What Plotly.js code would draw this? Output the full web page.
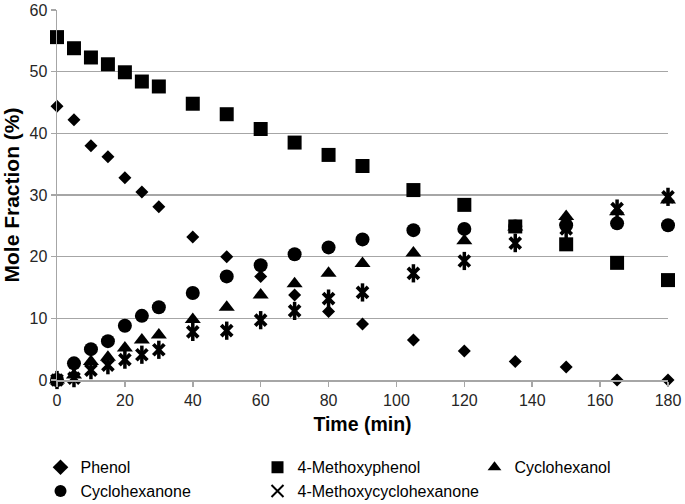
<!DOCTYPE html>
<html>
<head>
<meta charset="utf-8">
<script src="https://cdn.plot.ly/plotly-3.0.1.min.js"></script>
<style>html,body{margin:0;padding:0;background:#fff;}#chart{width:685px;height:504px;}</style>
</head>
<body>
<div id="chart"></div>
<script>
const time = [0, 5, 10, 15, 20, 25, 30, 40, 50, 60, 70, 80, 90, 105, 120, 135, 150, 165, 180];
const phenol = [44.4, 42.2, 38.0, 36.2, 32.8, 30.5, 28.1, 23.2, 20.0, 16.8, 13.8, 11.1, 9.1, 6.5, 4.7, 3.0, 2.1, 0, 0];
const methoxyphenol = [55.6, 53.8, 52.3, 51.2, 49.9, 48.4, 47.6, 44.8, 43.1, 40.7, 38.5, 36.5, 34.7, 30.8, 28.4, 24.9, 22.0, 19.0, 16.2];
const cyclohexanol = [0, 0.8, 3.0, 3.7, 5.2, 6.5, 7.3, 9.8, 11.8, 13.8, 15.6, 17.3, 18.9, 20.6, 22.6, 24.8, 26.5, 27.3, 29.2];
const cyclohexanone = [0, 2.7, 5.0, 6.3, 8.8, 10.4, 11.8, 14.1, 16.8, 18.6, 20.4, 21.5, 22.8, 24.3, 24.5, 24.9, 25.1, 25.4, 25.1];
const methoxycyclohexanone = [0, 0.3, 1.6, 2.4, 3.3, 4.1, 4.9, 7.8, 8.0, 9.7, 11.2, 13.2, 14.2, 17.3, 19.3, 22.2, 24.5, 27.8, 29.7];
const names = ['Phenol', '4-Methoxyphenol', 'Cyclohexanol', 'Cyclohexanone', '4-Methoxycyclohexanone'];

const black = '#000000';
function tr(name, y, symbol, size, lineWidth, extra) {
  return Object.assign({
    type: 'scatter', mode: 'markers', name: name, x: time, y: y, cliponaxis: false,
    marker: {symbol: symbol, size: size, color: black, line: {width: lineWidth, color: black}}
  }, extra || {});
}
const data = [
  tr(names[0], phenol, 'diamond', 10, 0),
  tr(names[1], methoxyphenol, 'square', 14, 0),
  tr(names[2], cyclohexanol, 'triangle-up', 14, 0),
  tr(names[3], cyclohexanone, 'circle', 14, 0),
  tr(names[4], methoxycyclohexanone, 'x-thin-open', 11, 3.8),
  tr(names[4], methoxycyclohexanone, 'line-ns-open', 13, 3.5, {showlegend: false, hoverinfo: 'skip'})
];

const titleFont = {family: 'Liberation Sans, Arial, sans-serif', color: '#000000', weight: 'bold'};
const layout = {
  width: 685, height: 504,
  margin: {l: 57, r: 17, t: 10, b: 124, autoexpand: false},
  paper_bgcolor: '#ffffff', plot_bgcolor: '#ffffff',
  font: {family: 'Liberation Sans, Arial, sans-serif', size: 16, color: '#262626'},
  showlegend: true,
  legend: {
    orientation: 'h', x: -0.027, xanchor: 'left', y: -0.19, yanchor: 'top',
    entrywidth: 172, entrywidthmode: 'pixels',
    font: {size: 16, color: '#000000'}, itemsizing: 'constant',
    traceorder: 'normal', bgcolor: 'rgba(0,0,0,0)'
  },
  xaxis: {
    range: [0, 180], tickvals: [0, 20, 40, 60, 80, 100, 120, 140, 160, 180],
    showgrid: false, zeroline: false, showline: true, linecolor: '#a6a6a6', linewidth: 1.5,
    ticks: 'outside', ticklen: 5, tickcolor: '#a6a6a6', tickwidth: 1.5,
    tickfont: {size: 16, color: '#262626'},
    title: {text: 'Time (min)', font: Object.assign({size: 19.5}, titleFont), standoff: 9}
  },
  yaxis: {
    range: [0, 60], tickvals: [0, 10, 20, 30, 40, 50, 60],
    showgrid: true, gridcolor: '#a6a6a6', gridwidth: 1.5, zeroline: false,
    showline: true, linecolor: '#a6a6a6', linewidth: 1.5,
    ticks: 'outside', ticklen: 5, tickcolor: '#a6a6a6', tickwidth: 1.5,
    tickfont: {size: 16, color: '#262626'},
    title: {text: 'Mole Fraction (%)', font: Object.assign({size: 21}, titleFont), standoff: 10}
  }
};
Plotly.newPlot('chart', data, layout, {displayModeBar: false, staticPlot: true});
</script>
</body>
</html>
